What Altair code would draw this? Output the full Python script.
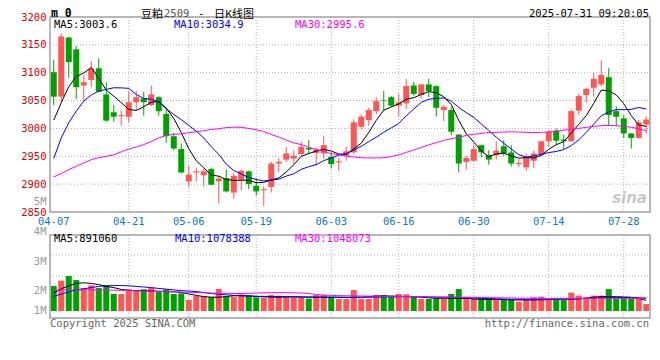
import altair as alt
import pandas as pd

dates = ["04-07","04-08","04-09","04-10","04-11","04-14","04-15","04-16","04-17","04-18",
         "04-21","04-22","04-23","04-24","04-25","04-28","04-29","04-30",
         "05-06","05-07","05-08","05-09","05-12","05-13","05-14","05-15","05-16",
         "05-19","05-20","05-21","05-22","05-23","05-26","05-27","05-28","05-29","05-30",
         "06-03","06-04","06-05","06-06","06-09","06-10","06-11","06-12","06-13",
         "06-16","06-17","06-18","06-19","06-20","06-23","06-24","06-25","06-26","06-27","06-30",
         "07-01","07-02","07-03","07-04","07-07","07-08","07-09","07-10","07-11",
         "07-14","07-15","07-16","07-17","07-18","07-21","07-22","07-23","07-24","07-25",
         "07-28","07-29","07-30","07-31"]

opens = [3101,3057,3163,3142,3077,3087,3108,3061,3029,3022,3021,3047,3054,3042,3056,3026,2986,2963,
         2905,2921,2916,2927,2905,2911,2885,2908,2923,2897,2889,2895,2937,2944,2946,2954,2965,2956,2955,
         2949,2939,2951,2957,3003,3015,3031,3051,3056,3041,3045,3077,3060,3079,3076,3033,3033,2989,2940,2942,
         2970,2952,2952,2968,2957,2936,2930,2942,2953,2977,2996,2980,2977,3032,3060,3073,3079,3092,3031,
         3018,2991,2983,3007]
highs = [3123,3171,3165,3148,3095,3121,3126,3083,3042,3032,3067,3067,3066,3077,3058,3037,2992,2973,
         2933,2930,2927,2930,2915,2926,2920,2926,2924,2911,2896,2940,2947,2967,2960,2976,2979,2966,2986,
         2957,2947,2967,3016,3025,3037,3056,3067,3058,3062,3089,3083,3079,3089,3077,3042,3038,2990,2951,2971,
         2971,2961,2977,2979,2970,2945,2955,2960,2977,2997,3000,2989,3034,3062,3073,3100,3122,3108,3040,
         3024,2991,3015,3022]
lows = [3042,3047,3091,3053,3051,3074,3065,3012,3012,3005,3011,3033,3023,3040,3023,2974,2961,2919,
        2895,2905,2896,2898,2866,2885,2874,2889,2891,2879,2861,2885,2921,2939,2937,2951,2954,2933,2945,
        2928,2924,2942,2954,2998,3005,3026,3031,3039,3021,3035,3059,3054,3056,3021,3013,2988,2921,2926,2942,
        2948,2935,2944,2951,2932,2931,2924,2929,2951,2967,2970,2963,2976,3024,3046,3057,3076,3004,3004,
        2983,2964,2982,2991]
closes = [3057,3165,3119,3074,3083,3107,3066,3014,3021,3024,3047,3056,3047,3061,3031,2986,2964,2921,
          2917,2923,2923,2899,2910,2887,2915,2924,2900,2887,2891,2937,2940,2955,2951,2967,2962,2962,2970,
          2936,2941,2959,3011,3021,3033,3049,3050,3041,3047,3076,3062,3079,3067,3037,3039,2994,2937,2947,2963,
          2957,2944,2960,2955,2937,2938,2949,2955,2977,2994,2978,2977,3031,3058,3071,3089,3096,3024,3021,
          2991,2983,3011,3016]

ma5 = [3015,3046,3075,3093,3099.5,3109.5,3089.7,3068.7,3058.0,3046.2,3034.3,3032.2,3038.9,3047.0,3048.4,
       3036.3,3017.9,2992.6,2963.7,2942.0,2929.3,2916.4,2914.3,2908.3,2906.8,2907.0,2907.1,2902.5,2903.2,
       2907.6,2911.0,2921.9,2934.7,2949.9,2954.9,2959.3,2962.4,2959.4,2954.2,2953.6,2963.3,2973.4,2992.8,
       3014.5,3032.7,3038.7,3043.9,3052.5,3055.1,3061.0,3066.1,3064.1,3056.7,3043.0,3014.5,2990.6,2975.8,
       2959.4,2949.5,2954.1,2955.7,2950.5,2946.7,2947.7,2946.9,2951.3,2962.6,2970.7,2976.3,2991.5,3007.5,
       3023.0,3045.1,3068.9,3067.6,3060.2,3044.3,3023.2,3006.2,3003.6]
ma10 = [2946,2983,3010,3031,3049,3060,3067,3070,3073,3072.8,3071.9,3061.0,3053.8,3052.5,3047.3,3035.3,
        3025.1,3015.8,3005.4,2995.2,2982.8,2967.1,2953.5,2936.0,2924.4,2918.2,2911.8,2908.4,2905.8,2907.2,
        2909.0,2914.5,2918.6,2926.6,2931.3,2935.1,2942.2,2947.0,2952.0,2954.2,2961.3,2967.9,2976.1,2984.3,
        2993.1,3001.0,3008.7,3022.7,3034.8,3046.8,3052.4,3054.0,3054.6,3049.1,3037.8,3028.3,3020.0,3008.1,
        2996.3,2984.3,2973.2,2963.2,2953.1,2948.6,2950.5,2953.5,2956.6,2958.7,2962.0,2969.2,2979.4,2992.8,
        3007.9,3022.6,3029.5,3033.9,3033.6,3034.2,3037.6,3034.9]
ma30 = [2913,2919,2926,2932,2938,2944,2947.5,2950,2952.5,2958,2963,2966.5,2971,2976.5,2983,2987.5,2989.5,
        2990,2992.5,2994,2996,2998,2999.5,3001.5,3002.3,3002,3000,2997.5,2994.5,2989,2984.5,2979,2974,2971,
        2966.5,2962,2958.8,2954.5,2953,2950.5,2948.7,2947.5,2947,2947,2947.5,2949.5,2952.5,2957,2961.5,2966,
        2970.5,2974.5,2978.5,2981.5,2984,2987.5,2989.5,2991,2992.5,2993,2993.5,2994,2993.5,2993,2992.5,2993,
        2993.5,2995,2997,2998.2,3000,3002,3003.5,3005,3005.4,3004.8,3004,3002,2999.5,2995.6]

# volume in millions of lots
volume_m = [2.08,2.53,2.92,2.58,1.92,2.14,1.92,2.14,1.42,1.42,1.81,1.67,1.81,1.92,1.58,1.81,1.42,1.47,
            0.92,1.25,1.19,1.14,1.83,1.19,1.19,1.39,1.28,1.14,1.11,1.33,1.28,1.19,1.14,1.14,1.03,1.33,1.33,
            1.19,1.0,1.0,1.75,1.0,1.0,1.33,1.33,1.25,1.42,1.39,1.19,1.0,1.0,1.06,1.0,1.42,1.83,1.14,1.0,
            1.06,1.06,1.0,0.92,0.92,0.78,0.92,1.14,1.19,1.0,0.92,0.92,1.53,1.28,1.0,1.28,1.28,1.83,1.0,
            1.06,1.0,1.0,0.58]
vma5 = [1.5,1.85,2.1,2.3,2.35,2.3,2.2,2.05,1.95,1.8,1.72,1.7,1.68,1.67,1.65,1.62,1.6,1.55,1.42,1.3,1.2,
        1.15,1.15,1.2,1.28,1.28,1.26,1.22,1.19,1.16,1.15,1.17,1.19,1.17,1.15,1.14,1.14,1.14,
        1.14,1.14,1.14,1.15,1.2,1.24,1.25,1.25,1.22,1.2,1.19,1.16,1.1,1.06,1.06,1.06,1.06,1.06,1.0,0.98,
        0.97,0.97,0.95,0.92,0.92,0.92,0.92,0.93,0.96,1.0,1.0,1.0,1.02,1.08,1.15,1.2,1.19,1.19,1.17,1.14,
        1.05,0.89]
vma10 = [1.22,1.4,1.6,1.75,1.85,1.95,2.05,2.1,2.12,2.12,2.1,2.05,2.0,1.95,1.88,1.82,1.76,1.7,1.66,1.62,
         1.55,1.45,1.4,1.35,1.3,1.27,1.25,1.22,1.22,1.2,1.2,1.2,1.18,1.17,1.17,1.16,1.16,1.15,
         1.15,1.13,1.14,1.14,1.15,1.16,1.17,1.18,1.19,1.2,1.2,1.19,1.17,1.15,1.15,1.14,1.12,1.1,1.08,1.06,
         1.04,1.02,1.0,0.98,0.98,0.97,0.97,0.98,0.98,0.98,0.99,1.0,1.02,1.05,1.08,1.1,1.12,1.13,1.12,1.11,
         1.1,1.08]
vma30 = [1.75,1.75,1.76,1.76,1.76,1.76,1.75,1.75,1.74,1.72,1.7,1.68,1.66,1.64,1.62,1.61,1.6,1.58,1.56,
         1.54,1.52,1.5,1.48,1.47,1.46,1.46,1.47,1.5,1.52,1.53,1.53,1.53,1.52,1.5,1.45,1.38,1.33,1.3,
         1.28,1.27,1.26,1.25,1.24,1.23,1.22,1.22,1.21,1.2,1.2,1.19,1.18,1.17,1.16,1.15,1.15,1.14,1.13,1.12,
         1.11,1.1,1.09,1.08,1.07,1.06,1.06,1.05,1.05,1.05,1.05,1.05,1.05,1.06,1.06,1.06,1.06,1.05,1.05,1.05,
         1.05,1.05]

price_ticks = [2850, 2900, 2950, 3000, 3050, 3100, 3150, 3200]
price_grid = [2900, 2950, 3000, 3050, 3100, 3150]
date_ticks = ["04-07", "04-21", "05-06", "05-19", "06-03", "06-16", "06-30", "07-14", "07-28"]
vol_axis_ticks = [1, 2, 3, 4, 5]

# ---------------- styling ----------------
W, H = 600, 324
MONO = "DejaVu Sans Mono"
CJK = "Noto Sans CJK SC"
RED = "#ff5555"
GREEN = "#00a000"
GRID = "#b0b0b0"
BORDER = "#a0a0a0"

df = pd.DataFrame(dict(date=dates, open=opens, high=highs, low=lows, close=closes,
                       ma5=ma5, ma10=ma10, ma30=ma30, vol=volume_m,
                       vma5=vma5, vma10=vma10, vma30=vma30))
df["dir"] = ["up" if c >= o else "down" for o, c in zip(opens, closes)]


def xscale():
    return alt.Scale(domain=dates, paddingInner=0, paddingOuter=0)


def pscale():
    return alt.Scale(domain=[2850, 3200], range=[204, 9], nice=False, zero=False)


def vscale():
    return alt.Scale(domain=[0, 6], range=[303, 231], nice=False, zero=False)


color = alt.Color("dir:N", scale=alt.Scale(domain=["up", "down"], range=[RED, GREEN]), legend=None)
X_NOAXIS = alt.X("date:O", scale=xscale(), axis=None)
one = pd.DataFrame({"a": [0]})
base = alt.Chart(df)

# date labels between the panels, placed by the band scale
date_labels = alt.Chart(pd.DataFrame({"d": date_ticks})).mark_text(
    font=MONO, fontSize=10.5, color="#0a78c8", baseline="middle", align="center").encode(
    x=alt.X("d:O", scale=xscale(), axis=None), y=alt.value(214), text="d:N")

price_axis = alt.Chart(pd.DataFrame({"p": price_ticks})).mark_point(opacity=0).encode(
    y=alt.Y("p:Q", scale=pscale(),
            axis=alt.Axis(values=price_ticks, format="d", orient="left", domain=False, ticks=False,
                          grid=False, title=None, labelColor="#dd0000", labelFont=MONO,
                          labelFontSize=10.5, labelPadding=4, minExtent=42, maxExtent=42)))
vol_axis = alt.Chart(pd.DataFrame({"v": vol_axis_ticks})).mark_point(opacity=0).encode(
    y=alt.Y("v:Q", scale=alt.Scale(domain=[1, 2, 3, 4, 5], range=[302, 282, 253, 223, 193]),
            axis=alt.Axis(values=vol_axis_ticks, labelExpr="datum.value + 'M'", orient="left",
                          domain=False, ticks=False, grid=False, title=None,
                          labelColor="#999999", labelFont=MONO, labelFontSize=10.5,
                          labelPadding=4, minExtent=42, maxExtent=42)))

# grid and frames
pgrid_h = alt.Chart(pd.DataFrame({"p": price_grid})).mark_rule(
    color=GRID, strokeDash=[1, 2], strokeWidth=1).encode(
    x=alt.value(0), x2=alt.value(W), y=alt.Y("p:Q", scale=pscale(), axis=None))
pgrid_v = alt.Chart(pd.DataFrame({"d": date_ticks[1:]})).mark_rule(
    color=GRID, strokeDash=[1, 2], strokeWidth=1).encode(
    x=alt.X("d:O", scale=xscale(), axis=None), y=alt.value(9), y2=alt.value(204))
vgrid_v = alt.Chart(pd.DataFrame({"d": date_ticks[1:]})).mark_rule(
    color=GRID, strokeDash=[1, 2], strokeWidth=1).encode(
    x=alt.X("d:O", scale=xscale(), axis=None), y=alt.value(227), y2=alt.value(310))


def hrule(yv):
    return alt.Chart(one).mark_rule(color=GRID, strokeDash=[1, 2], strokeWidth=1).encode(
        x=alt.value(0), x2=alt.value(W), y=alt.value(yv))


def frame(y0, y1):
    return alt.Chart(one).mark_rect(fillOpacity=0, stroke=BORDER, strokeWidth=1.5).encode(
        x=alt.value(0), x2=alt.value(W), y=alt.value(y0), y2=alt.value(y1))


# price marks
wicks = base.mark_rule(strokeWidth=1).encode(
    x=X_NOAXIS, y=alt.Y("low:Q", scale=pscale(), axis=None), y2="high:Q", color=color)
bodies = base.mark_bar(size=6).encode(
    x=X_NOAXIS, y=alt.Y("open:Q", scale=pscale(), axis=None), y2="close:Q", color=color)


def ma_line(field, col, sc):
    return base.mark_line(color=col, strokeWidth=1).encode(
        x=X_NOAXIS, y=alt.Y(f"{field}:Q", scale=sc, axis=None))


# volume marks
vbars = base.mark_bar(size=6).encode(
    x=X_NOAXIS, y=alt.Y("vol:Q", scale=vscale(), axis=None), color=color)


# texts
def txt(s, x, y, col="black", size=10.5, font=MONO, align="left", weight="normal", style="normal"):
    return alt.Chart(pd.DataFrame({"t": [s]})).mark_text(
        align=align, baseline="middle", color=col, fontSize=size, font=font,
        fontWeight=weight, fontStyle=style).encode(
        text="t:N", x=alt.value(x), y=alt.value(y))


texts = [
    txt("m 0", 1, 6, size=11.5, weight="bold"),
    txt("豆粕", 91, 6.5, size=11, font=CJK),
    txt("2509", 114, 6, col="#555555", size=10.5),
    txt("-", 148, 6, size=10.5),
    txt("日K线图", 164, 6.5, size=11, font=CJK),
    txt("2025-07-31 09:20:05", 599, 6, align="right"),
    txt("MA5:3003.6", 4, 17),
    txt("MA10:3034.9", 124, 17, col="#0000ff"),
    txt("MA30:2995.6", 245, 17, col="#ff00ff"),
    txt("MA5:891060", 4, 231),
    txt("MA10:1078388", 125, 231, col="#0000ff"),
    txt("MA30:1048073", 245, 231, col="#ff00ff"),
    txt("Copyright 2025 SINA.COM", 0, 316, col="#666666"),
    txt("http://finance.sina.com.cn", 599, 316, col="#666666", align="right"),
    txt("sina", 597, 190, col="#c8c8c8", size=15, font="DejaVu Sans", align="right",
        weight="bold", style="italic"),
]

layers = [
    pgrid_h, pgrid_v, vgrid_v, hrule(247), hrule(268), hrule(289),
    wicks, bodies,
    ma_line("ma5", "black", pscale()), ma_line("ma10", "#0000ff", pscale()),
    ma_line("ma30", "#ff00ff", pscale()),
    vbars,
    ma_line("vma5", "black", vscale()), ma_line("vma10", "#0000ff", vscale()),
    ma_line("vma30", "#ff00ff", vscale()),
    frame(9, 204), frame(227, 310),
    date_labels, price_axis, vol_axis,
] + texts

chart = alt.layer(*layers).resolve_scale(y="independent").properties(
    width=W, height=H, padding=0, background="white"
).configure_view(strokeWidth=0)

chart.save("out.html", embed_options={"renderer": "svg", "actions": False})
